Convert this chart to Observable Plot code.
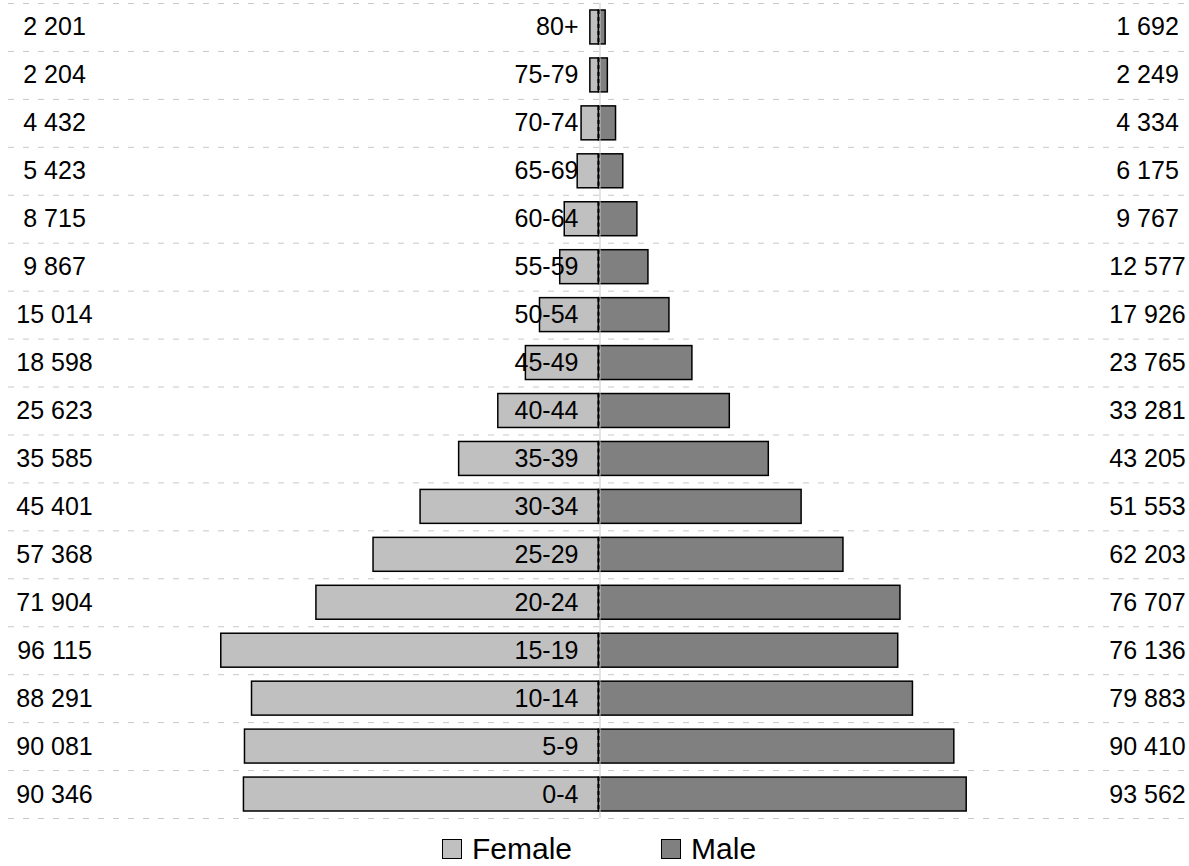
<!DOCTYPE html>
<html>
<head>
<meta charset="utf-8">
<script src="https://cdn.jsdelivr.net/npm/d3@7"></script>
<script src="https://cdn.jsdelivr.net/npm/@observablehq/plot@0.6"></script>
<style>
  html, body { margin: 0; background: #fff; overflow: hidden; font-family: "Liberation Sans", Arial, sans-serif; }
  #chart svg { display: block; max-width: none !important; }
  .legend { display: flex; align-items: center; padding-left: 442px; margin-top: 11px; font-size: 30px; line-height: 32px; color: #000; }
  .legend .sw { width: 18px; height: 18px; border: 1.5px solid #000; margin-right: 10px; }
  .legend .item { display: flex; align-items: center; }
</style>
</head>
<body>
<div id="chart"></div>
<script>
const ages = ["80+","75-79","70-74","65-69","60-64","55-59","50-54","45-49","40-44","35-39","30-34","25-29","20-24","15-19","10-14","5-9","0-4"];
const female = [2201,2204,4432,5423,8715,9867,15014,18598,25623,35585,45401,57368,71904,96115,88291,90081,90346];
const male = [1692,2249,4334,6175,9767,12577,17926,23765,33281,43205,51553,62203,76707,76136,79883,90410,93562];
const seriesNames = ["Female", "Male"];
const seriesColors = ["#c0c0c0", "#808080"];

const rows = ages.map((age, i) => ({age, female: female[i], male: male[i]}));
const fmt = d3.formatLocale({thousands: " ", grouping: [3], decimal: "."}).format(",d");

const W = 1189, H = 822;
const step = (818 - 3) / ages.length;
const font = "Liberation Sans, Arial, sans-serif";

const chart = Plot.plot({
  width: W,
  height: H,
  marginTop: 3,
  marginBottom: H - 818,
  marginLeft: 8,
  marginRight: 4,
  style: {fontFamily: font, background: "#fff", maxWidth: "none"},
  x: {domain: [-150254, 149237], axis: null},
  y: {domain: ages, padding: 0, round: false, axis: null},
  marks: [
    Plot.ruleY(rows, {y: "age", dy: -step / 2, stroke: "#c8c8c8", strokeDasharray: "6,9", strokeWidth: 1}),
    Plot.ruleY(rows.slice(-1), {y: "age", dy: step / 2, stroke: "#c8c8c8", strokeDasharray: "6,9", strokeWidth: 1}),
    Plot.barX(rows, {x1: 0, x2: d => -d.female, y: "age", fill: seriesColors[0], stroke: "#000", strokeWidth: 1.5, insetTop: 7, insetBottom: 7}),
    Plot.barX(rows, {x1: 0, x2: "male", y: "age", fill: seriesColors[1], stroke: "#000", strokeWidth: 1.5, insetTop: 7, insetBottom: 7}),
    Plot.ruleX([0], {stroke: "#c8c8c8", strokeWidth: 1, dx: 1}),
    Plot.tickX(rows, {x: () => 0, y: "age", stroke: "#000", strokeWidth: 2, strokeDasharray: "4,3", insetTop: 7, insetBottom: 7, dx: -0.5}),
    Plot.text(rows, {x: () => 0, y: "age", text: "age", textAnchor: "end", dx: -20.5, fontSize: 25, fill: "#000"}),
    Plot.text(rows, {frameAnchor: "left", y: "age", text: d => fmt(d.female), textAnchor: "middle", dx: 46, fontSize: 25, fill: "#000"}),
    Plot.text(rows, {frameAnchor: "right", y: "age", text: d => fmt(d.male), textAnchor: "middle", dx: -38, fontSize: 25, fill: "#000"})
  ]
});
document.getElementById("chart").appendChild(chart);

const legend = document.createElement("div");
legend.className = "legend";
seriesNames.forEach((name, i) => {
  const item = document.createElement("div");
  item.className = "item";
  if (i > 0) item.style.marginLeft = "89px";
  const sw = document.createElement("div");
  sw.className = "sw";
  sw.style.background = seriesColors[i];
  const t = document.createElement("span");
  t.textContent = name;
  item.appendChild(sw);
  item.appendChild(t);
  legend.appendChild(item);
});
document.body.appendChild(legend);
</script>
</body>
</html>
